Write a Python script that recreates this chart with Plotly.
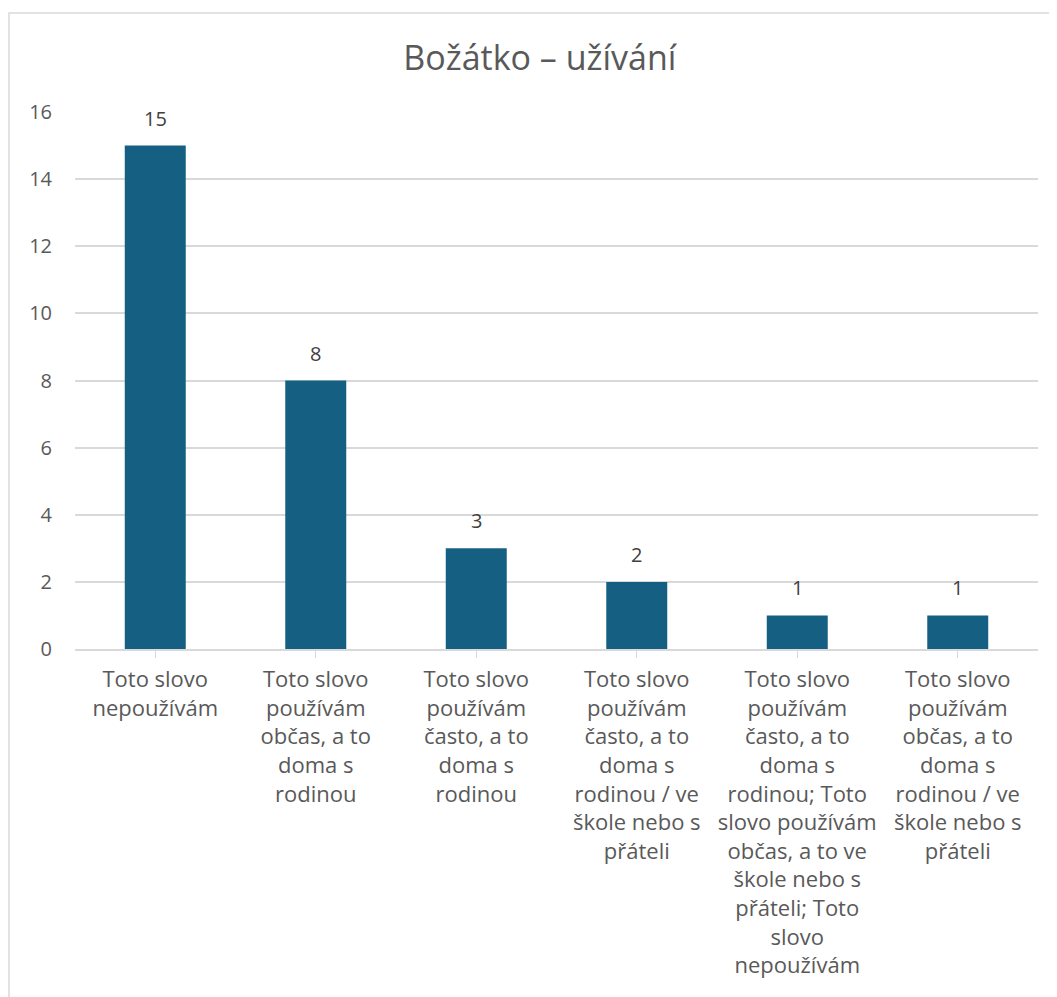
import plotly.graph_objects as go

categories = [
    "Toto slovo<br>nepoužívám",
    "Toto slovo<br>používám<br>občas, a to<br>doma s<br>rodinou",
    "Toto slovo<br>používám<br>často, a to<br>doma s<br>rodinou",
    "Toto slovo<br>používám<br>často, a to<br>doma s<br>rodinou / ve<br>škole nebo s<br>přáteli",
    "Toto slovo<br>používám<br>často, a to<br>doma s<br>rodinou; Toto<br>slovo používám<br>občas, a to ve<br>škole nebo s<br>přáteli; Toto<br>slovo<br>nepoužívám",
    "Toto slovo<br>používám<br>občas, a to<br>doma s<br>rodinou / ve<br>škole nebo s<br>přáteli",
]
values = [15, 8, 3, 2, 1, 1]
y_ticks = [0, 2, 4, 6, 8, 10, 12, 14, 16]
title_text = "Božátko – užívání"

FONT = "Open Sans, Noto Sans, sans-serif"
TEXT = "#595959"

W, H = 1049, 989
L, R, T, B = 67, 19, 104, 348
PW = W - L - R
PH = H - T - B

xs = list(range(len(categories)))

fig = go.Figure(
    go.Bar(
        x=xs,
        y=values,
        marker=dict(color="#156082", line=dict(width=0)),
        hoverinfo="skip",
    )
)

for xi, v in zip(xs, values):
    fig.add_annotation(
        x=xi, y=v, text=str(v), showarrow=False,
        yanchor="bottom", yshift=12,
        font=dict(size=20, color="#404040", family=FONT),
    )

fig.update_layout(
    width=W,
    height=H,
    margin=dict(l=L, r=R, t=T, b=B),
    paper_bgcolor="white",
    plot_bgcolor="white",
    bargap=0.62,
    showlegend=False,
    font=dict(family=FONT, color=TEXT),
    title=dict(
        text=title_text,
        x=0.507,
        xref="container",
        xanchor="center",
        y=1 - 50 / H,
        yref="container",
        yanchor="middle",
        font=dict(size=34, color=TEXT, family=FONT),
    ),
)

fig.update_xaxes(
    tickmode="array",
    tickvals=xs,
    ticktext=categories,
    range=[-0.5, len(categories) - 0.5],
    showline=True,
    linecolor="#d9d9d9",
    linewidth=1.5,
    ticks="outside",
    tickson="boundaries",
    ticklen=7,
    tickcolor="#d9d9d9",
    ticklabelstandoff=3,
    tickfont=dict(size=22, color=TEXT, family=FONT),
    showgrid=False,
    tickangle=0,
)

fig.update_yaxes(
    range=[0, 16],
    tickmode="array",
    tickvals=y_ticks,
    showgrid=True,
    gridcolor="#d9d9d9",
    gridwidth=1.5,
    zeroline=False,
    showline=False,
    ticks="",
    ticklabelstandoff=22,
    tickfont=dict(size=20, color=TEXT, family=FONT),
)

# chart border (left/top edges visible in the reference)
fig.add_shape(
    type="rect",
    xref="paper", yref="paper",
    x0=(1 - L) / PW, x1=(W + 10 - L) / PW,
    y0=-1.0, y1=1 + (T - 5) / PH,
    line=dict(color="#d9d9d9", width=1.5),
    fillcolor="rgba(0,0,0,0)",
    layer="below",
)

fig.write_html("out.html")
